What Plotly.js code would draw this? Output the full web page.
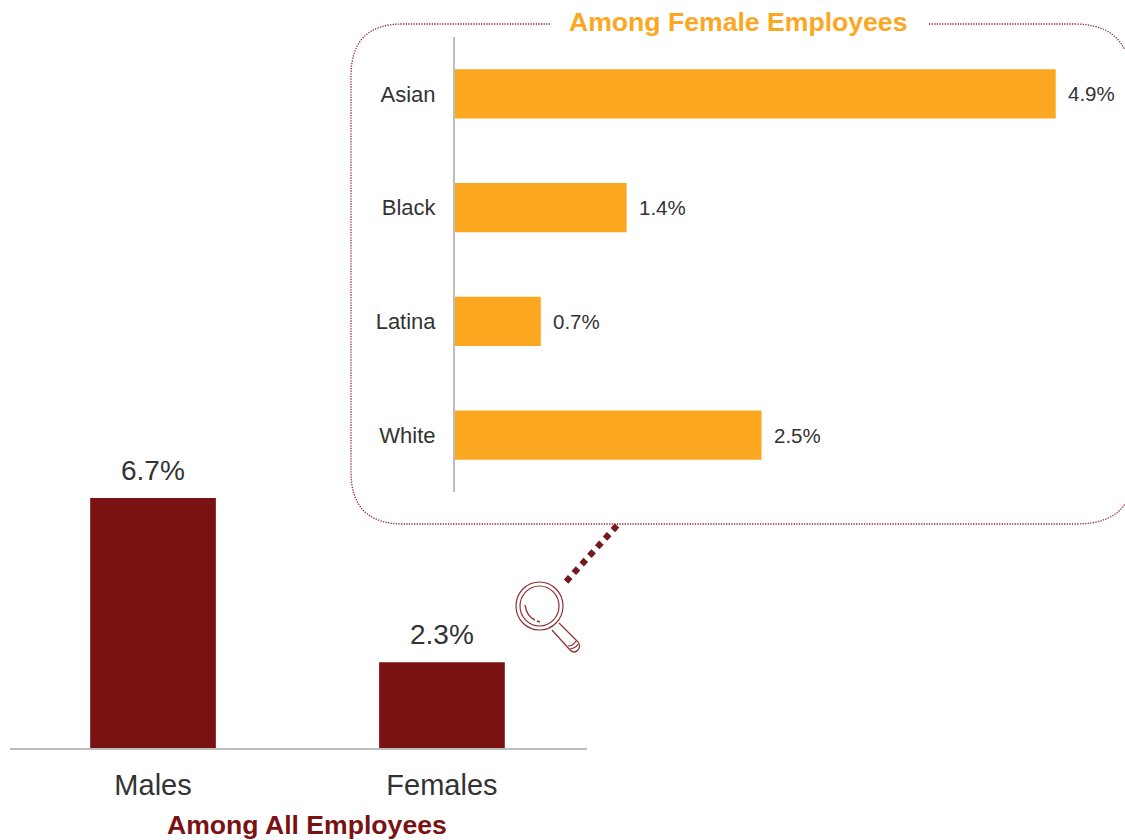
<!DOCTYPE html>
<html><head><meta charset="utf-8">
<script src="https://cdn.plot.ly/plotly-3.0.1.min.js"></script>
<style>html,body{margin:0;padding:0;background:#fff}#c{width:1125px;height:840px}</style>
</head><body><div id="c"></div>
<script>
const allCategories = ['Males', 'Females'];
const allValues = [6.7, 2.3];
const femaleCategories = ['Asian', 'Black', 'Latina', 'White'];
const femaleValues = [4.9, 1.4, 0.7, 2.5];
const allTitle = 'Among All Employees';
const femaleTitle = 'Among Female Employees';

const W = 1125, H = 840;
const X = p => p / W, Y = p => 1 - p / H;
const P = (cmds) => cmds.map(c => typeof c === 'string' ? c : X(c[0]) + ',' + Y(c[1])).join(' ');
const FONT = '"Liberation Sans", Arial, sans-serif';
const MAROON = '#7a1214', ORANGE = '#fba71f', TXT = '#333333', GREY = '#bdbdbd', MAG = '#8e2f33';
const pct = v => v.toFixed(1) + '%';

const traces = [
  {type:'bar', x:allCategories, y:allValues, xaxis:'x', yaxis:'y',
   marker:{color:MAROON}, hoverinfo:'x+y'},
  {type:'bar', orientation:'h', y:femaleCategories, x:femaleValues, xaxis:'x2', yaxis:'y2',
   marker:{color:ORANGE}, hoverinfo:'y+x'}
];

const dotted = {color:'#8c2a3a', width:1.3, dash:'1.3px,1.3px'};
const mag = w => ({color:MAG, width:w});
const shapes = [
  {type:'path', xref:'paper', yref:'paper', line:dotted,
   path:P(['M',[550,24],'L',[402,24],'Q',[351,24],[351,76],'L',[351,472],'Q',[351,524],[403,524],'L',[1075,524],'Q',[1112,524],[1125,504]])},
  {type:'path', xref:'paper', yref:'paper', line:dotted,
   path:P(['M',[929,24],'L',[1075,24],'Q',[1112,24],[1125,50]])},
  {type:'line', xref:'paper', yref:'paper', x0:X(617), y0:Y(525.5), x1:X(563), y1:Y(585),
   line:{color:'#741a20', width:6.2, dash:'6.2px,5.4px'}},
  // magnifier
  {type:'circle', xref:'paper', yref:'paper', x0:X(516), x1:X(563), y0:Y(582), y1:Y(630), line:mag(1.2)},
  {type:'circle', xref:'paper', yref:'paper', x0:X(520), x1:X(559), y0:Y(586), y1:Y(626), line:mag(1.2)},
  {type:'path', xref:'paper', yref:'paper', line:mag(1.2),
   path:P(['M',[552,630],'L',[570,650],'Q',[574,654],[578,650],'Q',[581,646],[578,642],'L',[559,623]])},
  {type:'path', xref:'paper', yref:'paper', line:mag(1.2),
   path:P(['M',[568,646],'Q',[573,646],[576,641],'M',[570,649],'Q',[576,648],[578,644]])},
  {type:'path', xref:'paper', yref:'paper', line:mag(1.4),
   path:P(['M',[525,605],'Q',[527,617],[535,620],'M',[537,621],'L',[540,622]])}
];

const ann = (text,x,y,color) => ({text, xref:'paper', yref:'paper', x:X(x), y:Y(y), xanchor:'center', yanchor:'middle',
  showarrow:false, font:{family:FONT,size:26.6,color,weight:700}});
const allLabels = allCategories.map((c,i) => ({text:pct(allValues[i]), xref:'x', yref:'y', x:c, y:allValues[i],
  xanchor:'center', yanchor:'bottom', yshift:10.5, showarrow:false, font:{family:FONT,size:28,color:TXT}}));
const femaleLabels = femaleCategories.map((c,i) => ({text:pct(femaleValues[i]), xref:'x2', yref:'y2', x:femaleValues[i], y:c,
  xanchor:'left', yanchor:'middle', xshift:10, showarrow:false, font:{family:FONT,size:20.5,color:TXT}}));

const layout = {
  width:W, height:H, margin:{l:0,r:0,t:0,b:0}, paper_bgcolor:'#fff', plot_bgcolor:'rgba(0,0,0,0)',
  showlegend:false, bargap:0.565, font:{family:FONT,color:TXT},
  xaxis:{domain:[X(10),X(587)], range:[-0.495,1.502], showline:true, linecolor:GREY, linewidth:2, showgrid:false, zeroline:false,
         ticks:'outside', ticklen:10, tickcolor:'rgba(0,0,0,0)', tickfont:{family:FONT,size:29,color:TXT}, anchor:'y', fixedrange:true},
  yaxis:{domain:[Y(748),Y(460)], range:[0,7.72], visible:false, anchor:'x', fixedrange:true},
  xaxis2:{domain:[X(455),1], range:[0,5.465], visible:false, anchor:'y2', fixedrange:true},
  yaxis2:{domain:[Y(492),Y(37)], range:[3.5,-0.5], showline:true, linecolor:GREY, linewidth:2, showgrid:false, zeroline:false,
          ticks:'outside', ticklen:13, tickcolor:'rgba(0,0,0,0)', tickfont:{family:FONT,size:22,color:TXT}, anchor:'x2', fixedrange:true},
  shapes,
  annotations:[ann(allTitle,307,825,MAROON), ann(femaleTitle,738,22,ORANGE), ...allLabels, ...femaleLabels]
};
Plotly.newPlot('c', traces, layout, {displayModeBar:false, responsive:false});
</script></body></html>
